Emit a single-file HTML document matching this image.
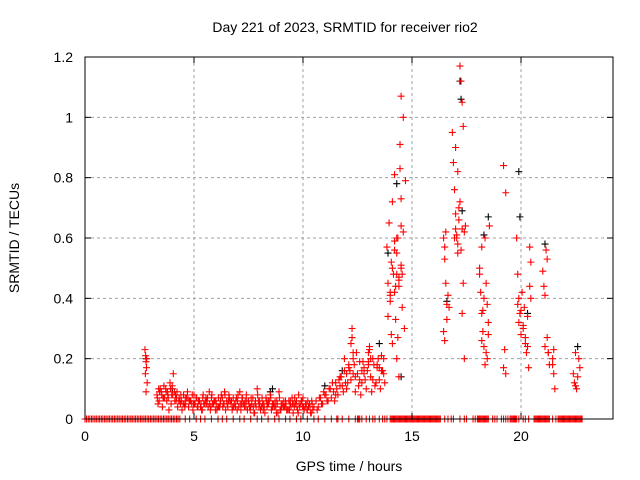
<!DOCTYPE html>
<html><head><meta charset="utf-8"><style>
body{margin:0;background:#fff;}
svg{display:block;font-family:"Liberation Sans",sans-serif;}
</style></head><body>
<svg id="chart" width="640" height="480">
<rect width="640" height="480" fill="#fff"/>
<g id="grid"></g><g id="marks"></g><g id="axes"></g>
<text x="345" y="32" font-size="14" text-anchor="middle">Day 221 of 2023, SRMTID for receiver rio2</text>
<text x="349" y="471" font-size="14" text-anchor="middle">GPS time / hours</text>
<text transform="translate(19,238) rotate(-90)" font-size="14" text-anchor="middle">SRMTID / TECUs</text>
</svg>
<script>
const xTicks=[0,5,10,15,20];
const yTicks=[0,0.2,0.4,0.6,0.8,1,1.2];
const yTickLabels=["0","0.2","0.4","0.6","0.8","1","1.2"];
const redT=[2.75,2.78,2.8,2.82,2.77,2.85,2.8,2.83,
3.3,3.4,3.5,3.6,3.7,3.8,3.9,4.0,4.05,4.1,4.2,4.3,4.4,4.5,4.6,4.7,4.8,4.9,5.0,5.1,5.2,5.3,5.4,5.5,5.6,5.7,5.8,5.9,6.0,6.1,6.2,6.3,6.4,6.5,6.6,6.7,6.8,6.9,7.0,7.1,7.2,7.3,7.4,7.5,7.6,7.7,7.8,7.9,8.0,8.1,8.2,8.3,8.4,8.5,8.6,8.7,8.8,8.9,9.0,9.1,9.2,9.3,9.4,9.5,9.6,9.7,9.8,9.9,10.0,10.1,10.2,10.3,10.4,10.5,
3.35,3.45,3.55,3.65,3.75,3.85,3.95,4.15,4.25,4.35,4.45,4.55,4.65,4.75,4.85,4.95,5.05,5.15,5.25,5.35,5.45,5.55,5.65,5.75,5.85,5.95,6.05,6.15,6.25,6.35,6.45,6.55,6.65,6.75,6.85,6.95,7.05,7.15,7.25,7.35,7.45,7.55,7.65,7.75,7.85,7.95,8.05,8.15,8.25,8.35,8.45,8.55,8.65,8.75,8.85,8.95,9.05,9.15,9.25,9.35,9.45,9.55,9.65,9.75,9.85,9.95,10.05,10.15,10.25,10.35,10.45,
3.32,3.42,3.52,3.62,3.72,3.82,3.92,4.02,4.12,4.22,4.32,4.42,4.52,4.62,4.72,4.82,4.92,5.02,5.12,5.22,5.32,5.42,5.52,5.62,5.72,5.82,5.92,6.02,6.12,6.22,6.32,6.42,6.52,6.62,6.72,6.82,6.92,7.02,7.12,7.22,7.32,7.42,7.52,7.62,7.72,7.82,7.92,8.02,8.12,8.22,8.32,8.42,8.52,8.62,8.72,8.82,8.92,9.02,9.12,9.22,9.32,9.42,9.52,9.62,9.72,9.82,9.92,10.02,10.12,10.22,10.32,10.42,
3.38,3.58,3.78,3.98,4.18,4.38,4.58,4.78,4.98,5.18,5.38,5.58,5.78,5.98,6.18,6.38,6.58,6.78,6.98,7.18,7.38,7.58,7.78,7.98,8.18,8.38,8.58,8.78,8.98,9.18,9.38,9.58,9.78,9.98,10.18,10.38,
10.6,10.7,10.8,10.9,11.0,11.1,11.2,11.3,11.4,11.5,11.6,11.7,11.8,11.9,12.0,12.1,12.2,12.3,12.4,12.5,12.6,12.7,12.8,12.9,13.0,13.1,13.2,13.3,13.4,13.5,13.6,13.7,
10.65,10.85,11.05,11.25,11.45,11.65,11.85,11.9,12.05,12.1,12.25,12.3,12.45,12.55,12.65,12.75,12.85,12.95,13.05,13.15,13.25,13.35,13.45,13.55,13.65,13.75,12.2,12.25,12.4,13.0,13.05,
10.75,10.95,11.15,11.35,11.55,11.75,11.95,12.15,12.35,12.6,12.8,13.0,13.2,13.4,13.6,13.7,11.5,11.7,12.0,12.3,12.7,13.1,13.5,
13.85,13.9,13.95,14.0,14.05,14.1,14.15,14.2,14.25,14.3,14.35,14.4,14.45,14.5,14.55,14.6,14.65,14.7,13.9,14.0,14.1,14.2,14.3,14.4,14.5,14.6,14.45,14.5,14.5,14.3,14.2,14.4,
14.0,14.1,14.2,14.3,14.4,14.5,14.05,14.25,14.35,14.55,
16.45,16.5,16.55,16.6,16.45,16.5,16.55,16.5,16.6,16.65,16.7,16.85,16.9,16.95,17.0,17.05,17.1,17.15,17.2,17.25,17.3,17.35,17.0,17.1,17.2,17.3,17.35,17.3,17.4,17.45,17.4,
16.95,17.05,17.15,17.25,17.0,17.1,
18.1,18.15,18.2,18.25,18.3,18.35,18.4,18.45,18.5,18.55,18.1,18.2,18.3,18.4,18.5,18.25,18.35,18.2,18.45,
19.2,19.25,19.3,19.2,19.3,
19.8,19.85,19.9,19.95,19.85,19.9,20.0,20.05,20.1,20.15,20.2,20.25,20.3,20.35,20.4,20.45,20.0,20.1,20.2,20.3,20.4,20.45,
21.0,21.05,21.1,21.15,21.2,21.25,21.3,21.1,21.2,21.25,
21.45,21.5,21.55,21.5,21.45,
22.4,22.45,22.5,22.55,22.6,22.65,22.7,22.5,22.6,22.7];
const redV=[0.23,0.21,0.19,0.17,0.15,0.12,0.09,0.2,
0.08,0.06,0.09,0.07,0.1,0.08,0.12,0.11,0.15,0.09,0.07,0.06,0.08,0.05,0.07,0.09,0.06,0.05,0.08,0.07,0.06,0.04,0.07,0.05,0.06,0.09,0.07,0.05,0.06,0.04,0.05,0.07,0.09,0.06,0.08,0.05,0.07,0.04,0.06,0.09,0.07,0.05,0.08,0.06,0.04,0.07,0.05,0.1,0.06,0.04,0.05,0.07,0.06,0.08,0.05,0.04,0.06,0.09,0.05,0.04,0.06,0.03,0.05,0.07,0.04,0.06,0.08,0.05,0.07,0.04,0.03,0.05,0.06,0.04,
0.05,0.1,0.04,0.07,0.06,0.03,0.05,0.08,0.04,0.06,0.03,0.05,0.07,0.04,0.06,0.03,0.05,0.04,0.06,0.03,0.05,0.07,0.04,0.03,0.05,0.06,0.03,0.04,0.08,0.05,0.03,0.04,0.06,0.03,0.05,0.07,0.04,0.03,0.05,0.06,0.03,0.04,0.05,0.02,0.04,0.06,0.03,0.05,0.02,0.04,0.06,0.03,0.05,0.04,0.02,0.03,0.05,0.04,0.03,0.06,0.04,0.02,0.05,0.03,0.04,0.06,0.03,0.05,0.04,0.02,0.03,
0.07,0.09,0.08,0.11,0.09,0.07,0.1,0.08,0.06,0.09,0.07,0.06,0.08,0.05,0.07,0.06,0.08,0.05,0.07,0.06,0.05,0.08,0.06,0.07,0.05,0.08,0.06,0.05,0.07,0.06,0.04,0.08,0.05,0.07,0.06,0.04,0.06,0.08,0.05,0.07,0.04,0.06,0.05,0.07,0.04,0.06,0.08,0.05,0.07,0.04,0.06,0.05,0.07,0.04,0.06,0.05,0.07,0.04,0.06,0.05,0.03,0.06,0.05,0.07,0.04,0.05,0.06,0.04,0.05,0.06,0.04,0.05,
0.1,0.07,0.09,0.08,0.06,0.05,0.04,0.06,0.05,0.04,0.03,0.05,0.04,0.03,0.04,0.05,0.06,0.04,0.03,0.05,0.04,0.03,0.02,0.04,0.03,0.05,0.04,0.02,0.03,0.04,0.03,0.05,0.02,0.04,0.03,0.02,
0.06,0.04,0.07,0.05,0.08,0.06,0.1,0.07,0.09,0.12,0.08,0.14,0.11,0.16,0.1,0.18,0.13,0.2,0.09,0.15,0.19,0.12,0.17,0.1,0.22,0.14,0.2,0.11,0.18,0.13,0.21,0.15,
0.03,0.05,0.08,0.1,0.06,0.13,0.09,0.2,0.12,0.17,0.27,0.15,0.22,0.11,0.08,0.19,0.13,0.16,0.24,0.09,0.18,0.12,0.2,0.1,0.16,0.12,0.25,0.3,0.14,0.18,0.23,
0.07,0.09,0.06,0.12,0.1,0.14,0.12,0.16,0.18,0.13,0.15,0.19,0.13,0.17,0.16,0.2,0.08,0.11,0.15,0.22,0.16,0.2,0.17,
0.57,0.45,0.65,0.39,0.52,0.72,0.48,0.81,0.33,0.6,0.27,0.44,0.83,0.5,0.37,0.62,0.3,0.79,0.34,0.41,0.25,0.56,0.2,0.47,1.07,1.0,0.91,0.73,0.64,0.55,0.42,0.14,
0.42,0.5,0.59,0.48,0.46,0.51,0.28,0.44,0.6,0.48,
0.6,0.53,0.45,0.38,0.29,0.26,0.62,0.57,0.33,0.41,0.37,0.95,0.85,0.76,0.68,0.6,0.58,0.66,1.17,1.12,1.05,0.97,0.9,0.82,0.72,0.63,0.45,0.35,0.2,
0.64,0.62,0.6,0.61,0.7,0.56,
0.63,0.55,0.5,0.42,0.35,0.29,0.24,0.6,0.45,0.38,0.32,0.64,0.48,0.57,0.4,0.22,0.28,0.36,0.18,
0.26,0.2,0.17,0.23,0.15,
0.84,0.75,0.6,0.48,0.4,0.35,0.38,0.32,0.28,0.42,0.3,0.37,0.25,0.22,0.34,0.17,0.44,0.4,0.36,0.31,0.27,0.24,
0.57,0.52,0.49,0.44,0.41,0.56,0.53,0.22,0.18,0.24,
0.27,0.22,0.2,0.15,0.1,
0.23,0.18,0.15,0.12,0.22,0.1,0.14,0.2,0.17,0.11];
const blackT=[2.8,4.0,8.5,8.6,11.0,11.8,13.5,13.9,14.3,14.5,16.6,17.2,17.25,17.3,18.3,18.5,19.9,19.95,20.3,21.1,22.6];
const blackV=[0.2,0.1,0.09,0.1,0.11,0.16,0.25,0.55,0.78,0.14,0.39,1.12,1.06,0.69,0.61,0.67,0.82,0.67,0.35,0.58,0.24];
const zeroT=[0,0.15,0.3,0.45,0.6,0.75,0.9,1.05,1.2,1.35,1.5,1.65,1.8,1.95,2.1,2.25,2.4,2.55,2.7,2.85,3.0,3.15,3.3,3.45,3.6,3.75,3.9,4.05,4.2,4.35,4.6,4.8,5.1,5.3,5.5,5.8,6.1,6.3,6.5,6.8,7.1,7.3,7.6,7.9,8.1,8.4,8.7,8.9,9.2,9.4,9.7,9.9,10.2,10.5,10.7,11.0,11.3,11.55,11.6,11.8,12.1,12.4,12.5,12.55,12.6,12.7,12.9,13.05,13.2,13.3,13.5,13.65,13.75,14.0,14.1,14.2,14.3,14.4,14.5,14.6,14.7,14.8,14.9,15.0,15.1,15.2,15.3,15.4,15.5,15.6,15.7,15.8,15.9,16.0,16.1,16.2,16.3,16.5,16.65,16.8,16.9,17.2,17.4,17.5,17.8,17.9,18.0,18.1,18.2,18.3,18.4,18.5,18.7,18.8,18.9,19.1,19.2,19.3,19.4,19.5,19.6,19.7,19.8,19.9,20.1,20.2,20.35,20.6,20.7,20.8,20.9,21.0,21.1,21.2,21.3,21.45,21.6,21.7,21.8,21.9,22.0,22.1,22.2,22.3,22.4,22.5,22.6,22.7,22.8,
0.07,0.22,0.37,0.52,0.67,0.82,0.97,1.12,1.27,1.42,1.57,1.72,1.87,2.02,2.17,2.32,2.47,2.62,2.77,2.92,3.07,3.22,3.37,3.52,3.67,3.82,3.97,4.12,4.27,13.85,14.05,14.15,14.25,14.35,14.45,14.55,14.65,14.75,14.85,14.95,15.05,15.15,15.25,15.35,15.45,15.55,15.65,15.75,15.85,15.95,16.05,16.15,16.25,18.05,18.15,18.25,18.35,18.45,19.55,19.65,19.75,20.65,20.75,20.85,20.95,21.05,21.15,21.25,21.75,21.85,21.95,22.05,22.15,22.25,22.35,22.45,22.55,22.65,22.75];
const X0=85,X1=613,Y0=419,Y1=57,XMAX=24.22,YMAX=1.2;
const sx=t=>X0+t/XMAX*(X1-X0);
const sy=v=>Y0-v/YMAX*(Y0-Y1);
const NS="http://www.w3.org/2000/svg";
function mk(tag,attrs,parent){const e=document.createElementNS(NS,tag);for(const k in attrs)e.setAttribute(k,attrs[k]);parent.appendChild(e);return e;}
const grid=document.getElementById('grid'),axes=document.getElementById('axes'),marks=document.getElementById('marks');
xTicks.forEach(t=>{const x=sx(t);
 if(t>0){const g=mk('line',{x1:x,x2:x,y1:Y1,y2:Y0,stroke:'#a0a0a0','stroke-dasharray':'3,3'},grid);
 
 }
 mk('line',{x1:x,x2:x,y1:Y0,y2:Y0-6,stroke:'#000'},axes);
 mk('line',{x1:x,x2:x,y1:Y1,y2:Y1+6,stroke:'#000'},axes);
 const l=mk('text',{x:x,y:Y0+22,'font-size':14,'text-anchor':'middle'},axes);l.textContent=t;
 
 });
yTicks.forEach((v,i)=>{const y=sy(v);
 if(v>0&&v<YMAX){const g=mk('line',{x1:X0,x2:X1,y1:y,y2:y,stroke:'#a0a0a0','stroke-dasharray':'3,3'},grid);
 
 }
 mk('line',{x1:X0,x2:X0+6,y1:y,y2:y,stroke:'#000'},axes);
 mk('line',{x1:X1,x2:X1-6,y1:y,y2:y,stroke:'#000'},axes);
 const l=mk('text',{x:X0-12,y:y+5,'font-size':14,'text-anchor':'end'},axes);l.textContent=yTickLabels[i];
 
 });
const fr=mk('rect',{x:X0,y:Y1,width:X1-X0,height:Y0-Y1,fill:'none',stroke:'#000'},axes);


function plus(t,v,col,name){const x=sx(t),y=sy(v);
 const p=mk('path',{d:`M${x-3.5} ${y}h7M${x} ${y-3.5}v7`,stroke:col,'stroke-width':1.1,fill:'none'},marks);
 
 }
blackT.forEach((t,i)=>plus(t,blackV[i],'#000','black-point'));
redT.forEach((t,i)=>plus(t,redV[i],'#f00','red-point'));
zeroT.forEach(t=>plus(t,0,'#f00','zero-point'));
</script>
</body></html>
